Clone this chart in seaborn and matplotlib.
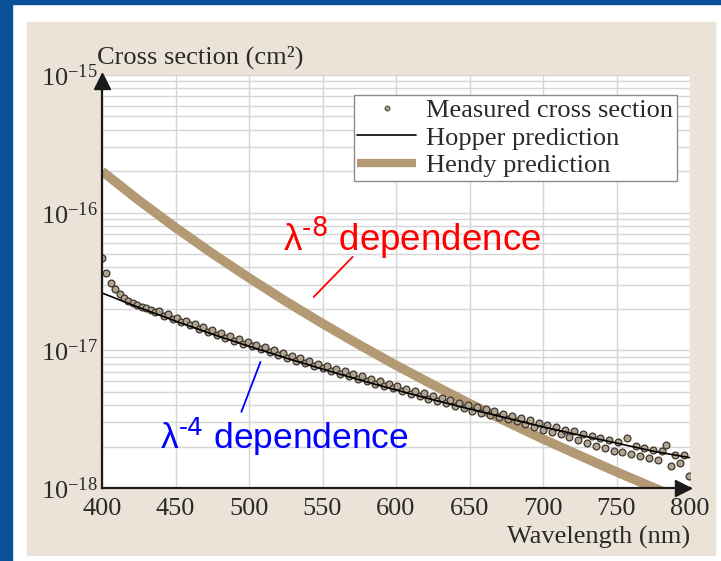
import numpy as np
import pandas as pd
import matplotlib
matplotlib.use("Agg")
import matplotlib.pyplot as plt
import matplotlib.transforms as mtransforms
from matplotlib.patches import Rectangle
from matplotlib.lines import Line2D
from matplotlib.ticker import LogLocator, NullFormatter, FixedLocator
import seaborn as sns

# ---------------- data (cross sections in units of 1e-18 cm^2) ----------------
meas_wl = np.arange(400, 800, 3)
meas_val = [47.0, 36.5, 31.0, 27.8, 25.6, 24.0, 22.9, 22.0, 21.3, 20.7,
            20.2, 19.7, 19.1, 19.2, 17.85, 18.25, 16.85, 17.25, 15.95, 16.4,
            15.2, 15.6, 14.4, 14.8, 13.6, 14.1, 13.0, 13.35, 12.35, 12.75,
            11.75, 12.15, 11.2, 11.5, 10.7, 11.0, 10.2, 10.5, 9.7, 10.05,
            9.26, 9.6, 8.87, 9.13, 8.43, 8.77, 8.08, 8.36, 7.74, 8.0,
            7.4, 7.65, 7.1, 7.35, 6.76, 7.04, 6.52, 6.73, 6.22, 6.48,
            5.98, 6.22, 5.73, 5.97, 5.49, 5.71, 5.29, 5.51, 5.05, 5.25,
            4.85, 5.05, 4.66, 4.88, 4.46, 4.69, 4.29, 4.51, 4.12, 4.34,
            3.94, 4.16, 3.80, 4.03, 3.65, 3.88, 3.51, 3.75, 3.38, 3.62,
            3.30, 3.45, 3.18, 3.36, 3.05, 3.22, 2.90, 3.12, 2.78, 2.98,
            2.66, 2.88, 2.55, 2.78, 2.45, 2.66, 2.34, 2.58, 2.24, 2.48,
            2.12, 2.40, 2.02, 2.30, 1.95, 2.24, 1.86, 2.15, 1.82, 2.32,
            1.76, 2.02, 1.70, 1.96, 1.66, 1.90, 1.60, 1.86, 2.05, 1.45,
            1.74, 1.52, 1.75, 1.22]

hopper_wl = [400, 425, 450, 475, 500, 525, 550, 575, 600, 625, 650, 675, 700, 725, 750, 775, 800]
hopper_val = [26.1, 20.5, 16.3, 13.1, 10.7, 8.8, 7.3, 6.1, 5.15, 4.38, 3.75, 3.23, 2.78, 2.42, 2.12, 1.85, 1.66]

hendy_wl = [400, 425, 450, 475, 500, 525, 550, 575, 600, 625, 650, 675, 700, 725, 750, 775, 800]
hendy_val = [200, 123, 77.9, 50.6, 33.6, 22.7, 15.65, 10.97, 7.8, 5.63, 4.11, 3.04, 2.27, 1.72, 1.31, 1.007, 0.78]

UNIT = 1e-18
x_ticks = [400, 450, 500, 550, 600, 650, 700, 750, 800]
y_ticks = [1e-18, 1e-17, 1e-16, 1e-15]
y_tick_labels = [r"$\mathregular{10^{-18}}$", r"$\mathregular{10^{-17}}$",
                 r"$\mathregular{10^{-16}}$", r"$\mathregular{10^{-15}}$"]

meas_df = pd.DataFrame({"wl": meas_wl, "cs": np.array(meas_val) * UNIT})
hop_df = pd.DataFrame({"wl": hopper_wl, "cs": np.array(hopper_val) * UNIT})
hen_df = pd.DataFrame({"wl": hendy_wl, "cs": np.array(hendy_val) * UNIT})

# ---------------- style ----------------
sns.set_style("white")
plt.rcParams["font.family"] = ["Liberation Serif", "DejaVu Serif"]
plt.rcParams["mathtext.default"] = "regular"

W, H = 721, 561
FS = 19
fig = plt.figure(figsize=(W / 100, H / 100), dpi=100)
fig.patch.set_facecolor("white")

# slide background
fig.patches.append(Rectangle((0, 0), 12 / W, 1, transform=fig.transFigure,
                             color="#0b519a", zorder=-10))
fig.patches.append(Rectangle((0, 1 - 4 / H), 1, 4 / H, transform=fig.transFigure,
                             color="#0b519a", zorder=-10))
fig.patches.append(Rectangle((27 / W, 1 - 555 / H), (715 - 27) / W, (555 - 22) / H,
                             transform=fig.transFigure, color="#ebe3d7", zorder=-9))

ax = fig.add_axes([102 / W, (H - 488) / H, 588 / W, 413 / H])
ax.set_zorder(1)
ax.set_facecolor("white")

tan = "#b39a74"
sns.lineplot(data=hen_df, x="wl", y="cs", ax=ax, color=tan, lw=6.8,
             solid_capstyle="butt", zorder=2, legend=False)
sns.scatterplot(data=meas_df, x="wl", y="cs", ax=ax, s=24, color="#b0a490",
                edgecolor="#3d352d", linewidth=0.9, zorder=3, legend=False)
sns.lineplot(data=hop_df, x="wl", y="cs", ax=ax, color="black", lw=1.2,
             zorder=4, legend=False)

ax.set_yscale("log")
ax.set_xlim(400, 800)
ax.set_ylim(1e-18, 1e-15)
ax.xaxis.set_major_locator(FixedLocator(x_ticks))
ax.set_yticks(y_ticks)
ax.set_yticklabels(y_tick_labels)
ax.yaxis.set_minor_locator(LogLocator(base=10, subs=np.arange(2, 10)))
ax.yaxis.set_minor_formatter(NullFormatter())
ax.tick_params(axis="both", which="both", length=0)
ax.tick_params(axis="x", pad=7, labelsize=FS, labelcolor="#2a2a2a")
ax.tick_params(axis="y", pad=3, labelsize=FS, labelcolor="#2a2a2a")
ax.grid(True, which="both", color="#d6d6d6", lw=1.0)
ax.set_axisbelow(True)
ax.set_xlabel("")
ax.set_ylabel("")

for s in ["top", "right"]:
    ax.spines[s].set_visible(False)
for s in ["left", "bottom"]:
    ax.spines[s].set_color("#1a1a1a")
    ax.spines[s].set_linewidth(1.6)
    ax.spines[s].set_zorder(5)

# axis arrows
tr_up = mtransforms.offset_copy(ax.transAxes, fig=fig, x=0, y=-6, units="dots")
ax.plot([0], [1], marker="^", ms=11, color="#1a1a1a", transform=tr_up, clip_on=False, zorder=6)
tr_rt = mtransforms.offset_copy(ax.transAxes, fig=fig, x=-7, y=0, units="dots")
ax.plot([1], [0], marker=">", ms=11, color="#1a1a1a", transform=tr_rt, clip_on=False, zorder=6)

# axis titles
fig.text(97 / W, 1 - 57 / H, "Cross section (cm²)", fontsize=FS, color="#2a2a2a",
         ha="left", va="center")
fig.text(690 / W, 1 - 537 / H, "Wavelength (nm)", fontsize=FS, color="#2a2a2a",
         ha="right", va="center")

# legend
handles = [
    Line2D([], [], ls="none", marker="o", ms=3.5, mfc="#a89c8a", mec="#555048", mew=0.8),
    Line2D([], [], color="black", lw=1.2),
    Line2D([], [], color=tan, lw=6.0, solid_capstyle="butt"),
]
labels = ["Measured cross section", "Hopper prediction", "Hendy prediction"]
leg = ax.legend(handles, labels, loc="upper right", bbox_to_anchor=(0.978, 0.952),
                borderaxespad=0, fontsize=FS, frameon=True, fancybox=False,
                edgecolor="#8a8a8a", framealpha=1, handlelength=2.2,
                handletextpad=0.4, labelspacing=0.15, borderpad=0.15)
leg.get_frame().set_linewidth(1.0)
for t in leg.get_texts():
    t.set_color("#2a2a2a")

# annotations
sans = ["Liberation Sans", "DejaVu Sans"]
ax.plot([570.5, 544], [4.77e-17, 2.44e-17], color="red", lw=1.3, zorder=6)
ax.text(522.8, 6.55e-17, r"λ$^{\text{-8}}$ dependence", color="red",
        fontsize=26.5, family=sans, ha="left", va="center", zorder=7)
ax.plot([507.8, 494.8], [8.24e-18, 3.57e-18], color="blue", lw=1.3, zorder=6)
ax.text(439.6, 2.35e-18, r"λ$^{\text{-4}}$ dependence", color="blue",
        fontsize=25.5, family=sans, ha="left", va="center", zorder=7)

fig.savefig("out.png", dpi=100, facecolor=fig.get_facecolor())
